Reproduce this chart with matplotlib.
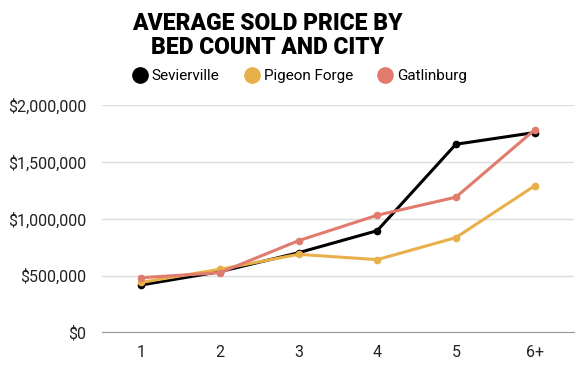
import matplotlib.pyplot as plt
from matplotlib.ticker import FuncFormatter

# Datos
beds = ["1", "2", "3", "4", "5", "6+"]
sevierville = [417000, 534000, 701000, 895000, 1656000, 1759000]
pigeon_forge = [440000, 555000, 687000, 640000, 834000, 1289000]
gatlinburg = [481000, 525000, 807000, 1031000, 1190000, 1782000]

plt.rcParams['font.family'] = ['Roboto', 'DejaVu Sans']

fig = plt.figure(figsize=(5.82, 3.73), dpi=100)
ax = fig.add_axes([0.175, 0.109, 0.811, 0.609])

x = range(len(beds))
series = [
    ("Sevierville", sevierville, "#000000"),
    ("Pigeon Forge", pigeon_forge, "#E8B04A"),
    ("Gatlinburg", gatlinburg, "#E07B6E"),
]
# Se dibuja en orden para que Gatlinburg quede encima
for name, vals, color in series:
    ax.plot(x, vals, color=color, linewidth=2.2, marker="o", markersize=4.5, label=name, zorder=3)

ax.set_xlim(-0.5, 5.5)
ax.set_ylim(0, 2000000)
ax.set_xticks(list(x))
ax.set_xticklabels(beds)
ax.set_yticks([0, 500000, 1000000, 1500000, 2000000])
ax.yaxis.set_major_formatter(FuncFormatter(lambda v, p: "${:,.0f}".format(v)))

ax.grid(axis="y", color="#dddddd", linewidth=1)
ax.set_axisbelow(True)
for s in ["top", "right", "left"]:
    ax.spines[s].set_visible(False)
ax.spines["bottom"].set_color("#999999")
ax.tick_params(axis="both", length=0, labelsize=11.5, colors="#222222")
ax.tick_params(axis="y", pad=11)
ax.tick_params(axis="x", pad=9)

fig.text(0.459, 0.905, "AVERAGE SOLD PRICE BY\nBED COUNT AND CITY", ha="center", va="center",
         fontsize=16.5, fontweight="black", linespacing=1.05, color="#000000")

handles, labels = ax.get_legend_handles_labels()
legend_handles = [plt.Line2D([], [], linestyle="none", marker="o", markersize=11, color=c)
                  for _, _, c in series]
fig.legend(legend_handles, labels, loc="center", bbox_to_anchor=(0.515, 0.795), ncol=3,
           frameon=False, fontsize=11, handletextpad=0.3, columnspacing=1.6, handlelength=1.0)

fig.savefig("out.png", dpi=100, facecolor="white")
